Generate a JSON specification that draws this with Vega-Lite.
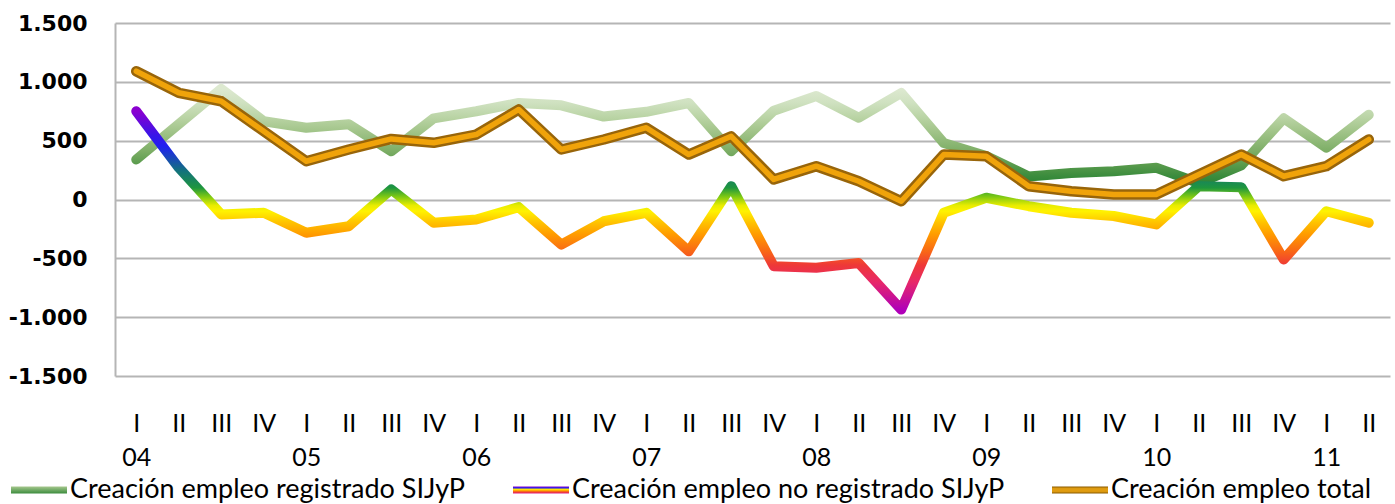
{
 "$schema": "https://vega.github.io/schema/vega-lite/v6.json",
 "width": 1275,
 "height": 353,
 "autosize": {"type": "none"},
 "padding": {"left": 115, "top": 23, "right": 5, "bottom": 128},
 "background": "white",
 "config": {"view": {"stroke": null}, "font": "Lato"},
 "data": {"values": [
  {"q":"04-I","s":"Creación empleo registrado SIJyP","v":340},
  {"q":"04-II","s":"Creación empleo registrado SIJyP","v":640},
  {"q":"04-III","s":"Creación empleo registrado SIJyP","v":940},
  {"q":"04-IV","s":"Creación empleo registrado SIJyP","v":665},
  {"q":"05-I","s":"Creación empleo registrado SIJyP","v":610},
  {"q":"05-II","s":"Creación empleo registrado SIJyP","v":640},
  {"q":"05-III","s":"Creación empleo registrado SIJyP","v":410},
  {"q":"05-IV","s":"Creación empleo registrado SIJyP","v":690},
  {"q":"06-I","s":"Creación empleo registrado SIJyP","v":750},
  {"q":"06-II","s":"Creación empleo registrado SIJyP","v":820},
  {"q":"06-III","s":"Creación empleo registrado SIJyP","v":800},
  {"q":"06-IV","s":"Creación empleo registrado SIJyP","v":705},
  {"q":"07-I","s":"Creación empleo registrado SIJyP","v":745},
  {"q":"07-II","s":"Creación empleo registrado SIJyP","v":820},
  {"q":"07-III","s":"Creación empleo registrado SIJyP","v":410},
  {"q":"07-IV","s":"Creación empleo registrado SIJyP","v":755},
  {"q":"08-I","s":"Creación empleo registrado SIJyP","v":880},
  {"q":"08-II","s":"Creación empleo registrado SIJyP","v":695},
  {"q":"08-III","s":"Creación empleo registrado SIJyP","v":905},
  {"q":"08-IV","s":"Creación empleo registrado SIJyP","v":480},
  {"q":"09-I","s":"Creación empleo registrado SIJyP","v":370},
  {"q":"09-II","s":"Creación empleo registrado SIJyP","v":195},
  {"q":"09-III","s":"Creación empleo registrado SIJyP","v":225},
  {"q":"09-IV","s":"Creación empleo registrado SIJyP","v":240},
  {"q":"10-I","s":"Creación empleo registrado SIJyP","v":270},
  {"q":"10-II","s":"Creación empleo registrado SIJyP","v":140},
  {"q":"10-III","s":"Creación empleo registrado SIJyP","v":290},
  {"q":"10-IV","s":"Creación empleo registrado SIJyP","v":690},
  {"q":"11-I","s":"Creación empleo registrado SIJyP","v":440},
  {"q":"11-II","s":"Creación empleo registrado SIJyP","v":720},
  {"q":"04-I","s":"Creación empleo no registrado SIJyP","v":750},
  {"q":"04-II","s":"Creación empleo no registrado SIJyP","v":270},
  {"q":"04-III","s":"Creación empleo no registrado SIJyP","v":-127},
  {"q":"04-IV","s":"Creación empleo no registrado SIJyP","v":-113},
  {"q":"05-I","s":"Creación empleo no registrado SIJyP","v":-283},
  {"q":"05-II","s":"Creación empleo no registrado SIJyP","v":-227},
  {"q":"05-III","s":"Creación empleo no registrado SIJyP","v":85},
  {"q":"05-IV","s":"Creación empleo no registrado SIJyP","v":-198},
  {"q":"06-I","s":"Creación empleo no registrado SIJyP","v":-170},
  {"q":"06-II","s":"Creación empleo no registrado SIJyP","v":-65},
  {"q":"06-III","s":"Creación empleo no registrado SIJyP","v":-383},
  {"q":"06-IV","s":"Creación empleo no registrado SIJyP","v":-185},
  {"q":"07-I","s":"Creación empleo no registrado SIJyP","v":-113},
  {"q":"07-II","s":"Creación empleo no registrado SIJyP","v":-440},
  {"q":"07-III","s":"Creación empleo no registrado SIJyP","v":113},
  {"q":"07-IV","s":"Creación empleo no registrado SIJyP","v":-567},
  {"q":"08-I","s":"Creación empleo no registrado SIJyP","v":-580},
  {"q":"08-II","s":"Creación empleo no registrado SIJyP","v":-540},
  {"q":"08-III","s":"Creación empleo no registrado SIJyP","v":-935},
  {"q":"08-IV","s":"Creación empleo no registrado SIJyP","v":-113},
  {"q":"09-I","s":"Creación empleo no registrado SIJyP","v":15},
  {"q":"09-II","s":"Creación empleo no registrado SIJyP","v":-57},
  {"q":"09-III","s":"Creación empleo no registrado SIJyP","v":-113},
  {"q":"09-IV","s":"Creación empleo no registrado SIJyP","v":-140},
  {"q":"10-I","s":"Creación empleo no registrado SIJyP","v":-212},
  {"q":"10-II","s":"Creación empleo no registrado SIJyP","v":113},
  {"q":"10-III","s":"Creación empleo no registrado SIJyP","v":105},
  {"q":"10-IV","s":"Creación empleo no registrado SIJyP","v":-510},
  {"q":"11-I","s":"Creación empleo no registrado SIJyP","v":-100},
  {"q":"11-II","s":"Creación empleo no registrado SIJyP","v":-198},
  {"q":"04-I","s":"Creación empleo total","v":1090},
  {"q":"04-II","s":"Creación empleo total","v":907},
  {"q":"04-III","s":"Creación empleo total","v":835},
  {"q":"04-IV","s":"Creación empleo total","v":580},
  {"q":"05-I","s":"Creación empleo total","v":325},
  {"q":"05-II","s":"Creación empleo total","v":425},
  {"q":"05-III","s":"Creación empleo total","v":515},
  {"q":"05-IV","s":"Creación empleo total","v":482},
  {"q":"06-I","s":"Creación empleo total","v":552},
  {"q":"06-II","s":"Creación empleo total","v":765},
  {"q":"06-III","s":"Creación empleo total","v":425},
  {"q":"06-IV","s":"Creación empleo total","v":510},
  {"q":"07-I","s":"Creación empleo total","v":610},
  {"q":"07-II","s":"Creación empleo total","v":382},
  {"q":"07-III","s":"Creación empleo total","v":537},
  {"q":"07-IV","s":"Creación empleo total","v":170},
  {"q":"08-I","s":"Creación empleo total","v":283},
  {"q":"08-II","s":"Creación empleo total","v":155},
  {"q":"08-III","s":"Creación empleo total","v":-15},
  {"q":"08-IV","s":"Creación empleo total","v":382},
  {"q":"09-I","s":"Creación empleo total","v":368},
  {"q":"09-II","s":"Creación empleo total","v":113},
  {"q":"09-III","s":"Creación empleo total","v":70},
  {"q":"09-IV","s":"Creación empleo total","v":42},
  {"q":"10-I","s":"Creación empleo total","v":42},
  {"q":"10-II","s":"Creación empleo total","v":212},
  {"q":"10-III","s":"Creación empleo total","v":382},
  {"q":"10-IV","s":"Creación empleo total","v":198},
  {"q":"11-I","s":"Creación empleo total","v":283},
  {"q":"11-II","s":"Creación empleo total","v":510}
 ]},
 "encoding": {
  "x": {
   "field": "q", "type": "ordinal", "sort": null,
   "scale": {"type": "point", "padding": 0.5},
   "axis": {
    "title": null, "domain": false, "ticks": false, "grid": false,
    "labelAngle": 0, "labelFont": "Lato", "labelFontSize": 25, "labelColor": "#000000",
    "labelPadding": 35, "labelBaseline": "top", "labelLineHeight": 34,
    "labelOverlap": false, "labelFlush": false, "labelBound": false,
    "labelExpr": "split(datum.value,'-')[1] == 'I' ? [split(datum.value,'-')[1], split(datum.value,'-')[0]] : [split(datum.value,'-')[1], ' ']"
   }
  },
  "y": {
   "field": "v", "type": "quantitative",
   "scale": {"domain": [-1500, 1500], "nice": false, "zero": false},
   "axis": {
    "title": null, "values": [-1500, -1000, -500, 0, 500, 1000, 1500],
    "ticks": false, "labelFont": "DejaVu Sans", "labelFontWeight": "bold", "labelFontSize": 22,
    "labelColor": "#000000", "labelPadding": 28,
    "labelExpr": "(datum.value < 0 ? '-' : '') + replace(format(abs(datum.value), ','), ',', '.')",
    "domainColor": "#b5b5b5", "domainWidth": 2, "gridColor": "#b5b5b5", "gridWidth": 2
   }
  }
 },
 "layer": [
  {
   "mark": {"type": "line", "strokeWidth": 1},
   "encoding": {
    "color": {
     "field": "s", "type": "nominal", "sort": null,
     "scale": {
      "domain": ["Creación empleo registrado SIJyP", "Creación empleo no registrado SIJyP", "Creación empleo total"],
      "range": ["#6aa84f", "#e08020", "#d09000"]
     },
     "legend": {
      "orient": "none", "legendX": -104, "legendY": 439, "direction": "horizontal",
      "title": null, "symbolType": "M-1,-0.125L1,-0.125L1,0.125L-1,0.125Z", "symbolSize": 3136,
      "symbolStrokeWidth": 0, "symbolOpacity": 1,
      "labelFont": "Lato", "labelFontSize": 27, "labelColor": "#000000", "labelLimit": 800,
      "labelOffset": 3, "columnPadding": 47,
      "encoding": {"symbols": {
       "strokeWidth": {"value": 0},
       "fill": {"value": {"expr": "datum.value == 'Creación empleo total' ? {gradient: 'linear', x1: 0, y1: 0, x2: 0, y2: 1, stops: [{offset: 0, color: '#8c5c00'}, {offset: 0.3, color: '#e09c10'}, {offset: 0.7, color: '#e09c10'}, {offset: 1, color: '#8c5c00'}]} : datum.value == 'Creación empleo no registrado SIJyP' ? {gradient: 'linear', x1: 0, y1: 0, x2: 0, y2: 1, stops: [{offset: 0, color: '#8a00d0'}, {offset: 0.2, color: '#2020f0'}, {offset: 0.4, color: '#fff200'}, {offset: 0.6, color: '#ffa000'}, {offset: 0.8, color: '#f04030'}, {offset: 1, color: '#e02080'}]} : {gradient: 'linear', x1: 0, y1: 0, x2: 0, y2: 1, stops: [{offset: 0, color: '#a6c78e'}, {offset: 1, color: '#3b8c3d'}]}"}}
      }}
     }
    }
   }
  },
  {
   "transform": [{"filter": "datum.s == 'Creación empleo registrado SIJyP'"}],
   "mark": {"type": "line", "strokeWidth": 10, "strokeCap": "round", "strokeJoin": "round",
    "stroke": {"gradient": "linear", "x1": 0, "y1": 0, "x2": 0, "y2": 1, "stops": [
        {"offset": 0, "color": "#dde9d0"}, {"offset": 0.15, "color": "#cfe1c0"},
        {"offset": 0.3, "color": "#bad4a5"}, {"offset": 0.425, "color": "#a6c78e"},
        {"offset": 0.66, "color": "#7dae66"}, {"offset": 0.8, "color": "#5a9b4d"},
        {"offset": 0.925, "color": "#3b8c3d"}, {"offset": 1, "color": "#2d8535"}]}},
   "encoding": {}
  },
  {
   "transform": [{"filter": "datum.s == 'Creación empleo no registrado SIJyP'"}],
   "mark": {"type": "line", "strokeWidth": 10, "strokeCap": "round", "strokeJoin": "round",
    "stroke": {"gradient": "linear", "x1": 0, "y1": 0, "x2": 0, "y2": 1, "stops": [
        {"offset": 0, "color": "#8a00d0"}, {"offset": 0.119, "color": "#3a14e8"},
        {"offset": 0.178, "color": "#2020f0"}, {"offset": 0.297, "color": "#127080"},
        {"offset": 0.386, "color": "#1e963e"}, {"offset": 0.43, "color": "#7cc814"},
        {"offset": 0.475, "color": "#e8ec00"}, {"offset": 0.504, "color": "#fff200"},
        {"offset": 0.564, "color": "#ffc000"}, {"offset": 0.623, "color": "#ff9a00"},
        {"offset": 0.712, "color": "#f86418"}, {"offset": 0.777, "color": "#ee3838"},
        {"offset": 0.86, "color": "#e82868"}, {"offset": 1, "color": "#b000b8"}]}},
   "encoding": {}
  },
  {
   "transform": [{"filter": "datum.s == 'Creación empleo total'"}],
   "mark": {"type": "line", "stroke": "#98650a", "strokeWidth": 10.5, "strokeCap": "round", "strokeJoin": "round"},
   "encoding": {}
  },
  {
   "transform": [{"filter": "datum.s == 'Creación empleo total'"}],
   "mark": {"type": "line", "stroke": "#f0a30a", "strokeWidth": 5.5, "strokeCap": "round", "strokeJoin": "round"},
   "encoding": {}
  }
 ]
}
